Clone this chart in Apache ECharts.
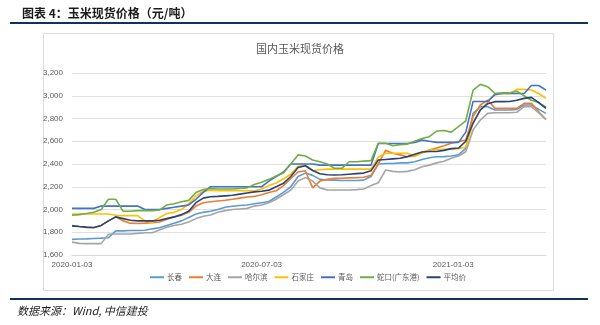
<!DOCTYPE html>
<html><head><meta charset="utf-8">
<script src="https://cdn.jsdelivr.net/npm/echarts@6/dist/echarts.min.js"></script>
<style>html,body{margin:0;padding:0;background:#fff}#c{width:600px;height:325px}</style>
</head><body><div id="c"></div>
<script>
// Weekly observations starting 2020-01-03
const startDate = [2020, 0, 3];
const tickDates = ['2020-01-03', '2020-07-03', '2021-01-03'];
const seriesNames = ['长春', '大连', '哈尔滨', '石家庄', '青岛', '蛇口(广东港)', '平均价'];
const changchun = [1737,1740,1742,1745,1748,1752,1812,1812,1815,1815,1818,1830,1840,1860,1880,1900,1930,1960,1975,1985,2000,2020,2028,2035,2040,2050,2060,2070,2110,2150,2200,2290,2320,2300,2265,2260,2258,2255,2255,2255,2258,2290,2400,2405,2405,2410,2410,2420,2440,2455,2464,2465,2470,2480,2538,2845,2904,2904,2875,2875,2875,2880,2919,2919,2880,2845];
const dalian = [1860,1850,1842,1840,1860,1900,1935,1900,1880,1877,1880,1885,1890,1915,1935,1950,1975,2030,2060,2068,2075,2082,2090,2100,2110,2115,2130,2150,2165,2210,2270,2330,2340,2190,2250,2265,2274,2275,2278,2280,2283,2300,2400,2520,2494,2480,2464,2470,2500,2523,2540,2560,2582,2595,2611,2816,2919,2962,2889,2889,2889,2889,2933,2933,2860,2792];
const haerbin = [1713,1702,1700,1700,1700,1782,1785,1785,1785,1790,1795,1795,1820,1845,1860,1870,1890,1920,1940,1952,1975,1990,2000,2005,2010,2030,2040,2060,2090,2130,2170,2250,2280,2250,2190,2171,2171,2171,2171,2175,2180,2210,2235,2347,2335,2330,2335,2350,2376,2390,2410,2425,2450,2470,2508,2700,2787,2845,2851,2851,2851,2855,2904,2904,2850,2790];
const shijiazhuang = [1960,1960,1960,1960,1960,1960,1950,1946,1946,1946,1900,1887,1930,1965,1975,2000,2050,2120,2160,2170,2165,2165,2165,2165,2165,2165,2180,2210,2233,2270,2310,2380,2390,2343,2350,2355,2355,2355,2355,2355,2355,2355,2460,2494,2494,2494,2494,2465,2500,2523,2525,2530,2530,2535,2550,2760,2875,2940,3020,3020,3020,3056,3056,3050,3020,2977];
const qingdao = [2010,2010,2010,2010,2030,2030,2030,2030,2030,2030,2000,2000,2000,2010,2020,2030,2040,2090,2150,2200,2200,2200,2200,2200,2200,2200,2200,2250,2290,2330,2400,2400,2400,2400,2390,2390,2390,2390,2390,2390,2390,2390,2580,2580,2580,2580,2580,2590,2610,2600,2590,2590,2590,2590,2680,2950,2950,2950,3010,3020,3020,3020,3020,3090,3090,3050];
const shekou = [1950,1955,1965,1976,2000,2090,2090,1985,1985,1990,1990,1990,1995,2040,2050,2068,2080,2150,2175,2185,2180,2180,2180,2185,2190,2220,2240,2265,2295,2320,2400,2480,2470,2435,2420,2400,2362,2362,2420,2420,2425,2430,2582,2582,2560,2570,2575,2600,2625,2640,2690,2695,2680,2728,2780,3050,3100,3080,3020,3025,3025,3040,3000,2960,2940,2900];
const average = [1856,1850,1845,1842,1860,1900,1935,1920,1905,1900,1900,1900,1905,1920,1935,1955,1985,2060,2100,2112,2115,2120,2125,2135,2145,2155,2160,2170,2200,2230,2290,2370,2385,2343,2315,2305,2303,2305,2310,2315,2320,2340,2435,2440,2445,2450,2465,2485,2505,2510,2510,2520,2535,2540,2600,2760,2875,2930,2948,2948,2950,2960,2977,2986,2940,2889];
const colors = ['#5B9BD5', '#ED7D31', '#A5A5A5', '#FFC000', '#4472C4', '#70AD47', '#264478'];
const allValues = [changchun, dalian, haerbin, shijiazhuang, qingdao, shekou, average];

function dateOf(k) { return new Date(startDate[0], startDate[1], startDate[2] + 7 * k).getTime(); }
function parseD(s) { const p = s.split('-').map(Number); return new Date(p[0], p[1] - 1, p[2]).getTime(); }
const n = changchun.length;

const chart = echarts.init(document.getElementById('c'), null, { renderer: 'canvas' });
chart.setOption({
  animation: false,
  backgroundColor: '#fff',
  color: colors,
  title: [
    { text: '国内玉米现货价格', left: 'center', top: 38, textStyle: { fontSize: 11, fontWeight: 'normal', color: '#595959', fontFamily: 'Noto Sans CJK SC' } }
  ],
  graphic: [
    { type: 'text', left: 22, top: 7, style: { text: '图表 4：玉米现货价格（元/吨）', font: 'bold 12px "Noto Sans CJK SC"', fill: '#1a1a1a' } },
    { type: 'rect', shape: { x: 10, y: 22, width: 578, height: 2 }, style: { fill: '#14305f' } },
    { type: 'rect', shape: { x: 43.5, y: 33.5, width: 510, height: 257 }, style: { fill: 'none', stroke: '#dcdcdc', lineWidth: 1 } },
    { type: 'rect', shape: { x: 10, y: 298, width: 578, height: 2 }, style: { fill: '#14305f' } },
    { type: 'text', left: 17, top: 305, style: { text: '数据来源：Wind, 中信建投', font: 'italic 11px "Noto Sans CJK SC"', fill: '#1a1a1a' } }
  ],
  legend: {
    bottom: 39, left: 145,
    data: seriesNames,
    icon: 'rect', itemWidth: 14, itemHeight: 2, itemGap: 7,
    textStyle: { fontSize: 7.5, color: '#595959', fontFamily: 'Noto Sans CJK SC', padding: [0, 0, 0, -2] }
  },
  grid: { left: 72, right: 54, top: 73, bottom: 70, containLabel: false },
  xAxis: {
    type: 'time',
    min: dateOf(0), max: dateOf(n - 1),
    axisLine: { lineStyle: { color: '#d9d9d9' } },
    axisTick: { show: false },
    splitLine: { show: false },
    axisLabel: {
      customValues: tickDates.map(parseD),
      formatter: '{yyyy}-{MM}-{dd}',
      fontSize: 8, color: '#595959', margin: 6, hideOverlap: false
    }
  },
  yAxis: {
    type: 'value', min: 1600, max: 3200, interval: 200,
    axisLine: { show: false }, axisTick: { show: false },
    splitLine: { lineStyle: { color: '#e0e0e0' } },
    axisLabel: { fontSize: 8, color: '#595959', margin: 9, formatter: v => v.toLocaleString('en-US') }
  },
  series: seriesNames.map((name, i) => ({
    name, type: 'line', showSymbol: false, symbol: 'none',
    lineStyle: { width: 1.6, color: colors[i] },
    itemStyle: { color: colors[i] },
    data: allValues[i].map((v, k) => [dateOf(k), v])
  }))
});
</script></body></html>
